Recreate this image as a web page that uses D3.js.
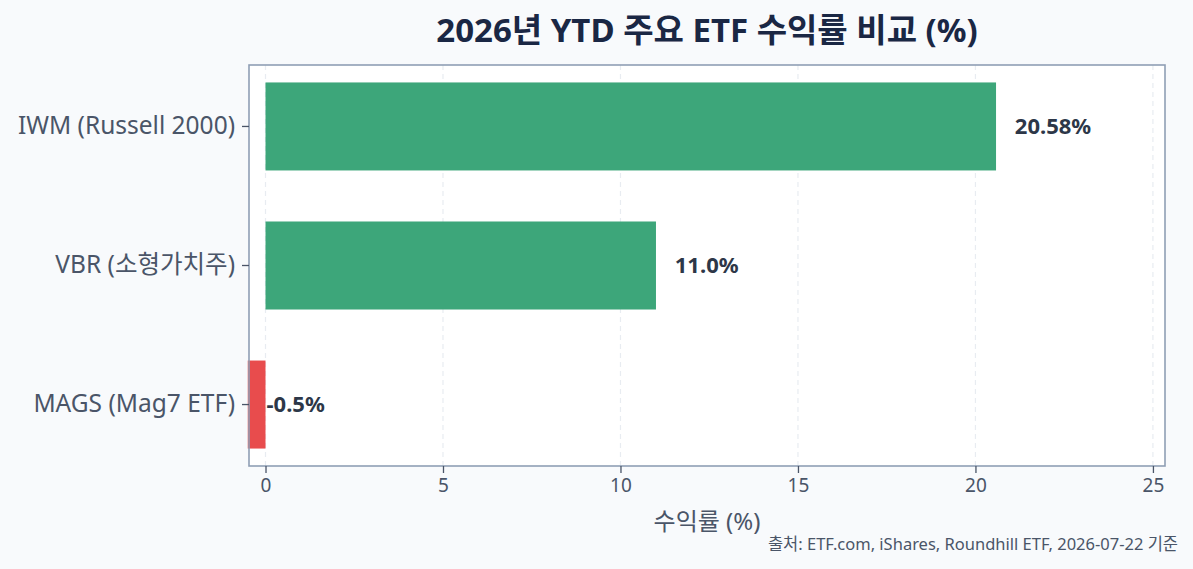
<!DOCTYPE html>
<html>
<head>
<meta charset="utf-8">
<script src="https://cdn.jsdelivr.net/npm/d3@7"></script>
<style>
  body { margin: 0; background: #f8fafc; }
  svg { display: block; font-family: "Noto Sans", "Noto Sans CJK KR", sans-serif; }
</style>
</head>
<body>
<svg></svg>
<script>
let categories = ['IWM (Russell 2000)', 'VBR (소형가치주)', 'MAGS (Mag7 ETF)'];
let values = [20.58, 11.0, -0.5];
let valueLabels = ['20.58%', '11.0%', '-0.5%'];
let xTicks = [0, 5, 10, 15, 20, 25];

let width = 1193;
let height = 569;
let plotLeft = 249, plotRight = 1165, plotTop = 65, plotBottom = 466;
let fontStack = '"Noto Sans", "Noto Sans CJK KR", sans-serif';

let svg = d3.select('svg')
    .attr('width', width)
    .attr('height', height);

svg.append('rect')
    .attr('width', width)
    .attr('height', height)
    .attr('fill', '#f8fafc');

let xScale = d3.scaleLinear()
    .domain([-0.465, 25.34])
    .range([plotLeft, plotRight]);

let yScale = d3.scaleBand()
    .domain(categories)
    .range([plotTop - 8, plotBottom + 8])
    .paddingInner(0.367)
    .paddingOuter(0.183);

// plot background
svg.append('rect')
    .attr('x', plotLeft)
    .attr('y', plotTop)
    .attr('width', plotRight - plotLeft)
    .attr('height', plotBottom - plotTop)
    .attr('fill', '#ffffff');

// grid
svg.append('g')
    .selectAll('line')
    .data(xTicks)
    .enter()
    .append('line')
    .attr('x1', d => xScale(d))
    .attr('x2', d => xScale(d))
    .attr('y1', plotTop)
    .attr('y2', plotBottom)
    .attr('stroke', '#e8ecf1')
    .attr('stroke-width', 1.2)
    .attr('stroke-dasharray', '5,4');

// bars
svg.append('g')
    .selectAll('rect')
    .data(values)
    .enter()
    .append('rect')
    .attr('x', d => xScale(Math.min(0, d)))
    .attr('y', (d, i) => yScale(categories[i]))
    .attr('width', d => Math.abs(xScale(d) - xScale(0)))
    .attr('height', yScale.bandwidth())
    .attr('fill', d => d >= 0 ? '#3da67a' : '#e84c4d');

// value labels
svg.append('g')
    .selectAll('text')
    .data(values)
    .enter()
    .append('text')
    .attr('x', d => xScale(d + 0.53))
    .attr('y', (d, i) => yScale(categories[i]) + yScale.bandwidth() / 2)
    .attr('dy', '0.35em')
    .attr('font-size', 22)
    .attr('font-weight', 'bold')
    .attr('fill', '#2d3748')
    .text((d, i) => valueLabels[i]);

// frame
svg.append('rect')
    .attr('x', plotLeft)
    .attr('y', plotTop)
    .attr('width', plotRight - plotLeft)
    .attr('height', plotBottom - plotTop)
    .attr('fill', 'none')
    .attr('stroke', '#8f9fb5')
    .attr('stroke-width', 1.6);

// axes
let xAxis = d3.axisBottom(xScale)
    .tickValues(xTicks)
    .tickSize(7)
    .tickPadding(6)
    .tickFormat(d3.format('d'));

let gx = svg.append('g')
    .attr('transform', `translate(0, ${plotBottom})`)
    .call(xAxis);
gx.select('.domain').remove();
gx.selectAll('.tick line').attr('stroke', '#4a5568').attr('stroke-width', 1.3);
gx.selectAll('.tick text')
    .attr('fill', '#4a5568')
    .attr('font-size', 19)
    .style('font-family', fontStack);

let yAxis = d3.axisLeft(yScale)
    .tickSize(7)
    .tickPadding(7);

let gy = svg.append('g')
    .attr('transform', `translate(${plotLeft}, 0)`)
    .call(yAxis);
gy.select('.domain').remove();
gy.selectAll('.tick line').attr('stroke', '#4a5568').attr('stroke-width', 1.3);
gy.selectAll('.tick text')
    .attr('fill', '#4a5568')
    .attr('font-size', 24.5)
    .style('font-family', fontStack);

// title
svg.append('text')
    .attr('x', (plotLeft + plotRight) / 2)
    .attr('y', 42)
    .attr('text-anchor', 'middle')
    .attr('font-size', 33)
    .attr('font-weight', 'bold')
    .attr('fill', '#1a2744')
    .text('2026년 YTD 주요 ETF 수익률 비교 (%)');

// x label
svg.append('text')
    .attr('x', (plotLeft + plotRight) / 2)
    .attr('y', 530)
    .attr('text-anchor', 'middle')
    .attr('font-size', 24)
    .attr('fill', '#4a5568')
    .text('수익률 (%)');

// source
svg.append('text')
    .attr('x', 1178)
    .attr('y', 550)
    .attr('text-anchor', 'end')
    .attr('font-size', 16.5)
    .attr('fill', '#4a5568')
    .text('출처: ETF.com, iShares, Roundhill ETF, 2026-07-22 기준');
</script>
</body>
</html>
